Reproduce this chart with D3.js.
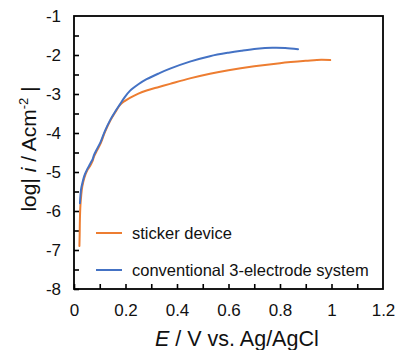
<!DOCTYPE html>
<html>
<head>
<meta charset="utf-8">
<script src="https://cdn.jsdelivr.net/npm/d3@7"></script>
<style>
  body { margin: 0; background: #fff; }
  svg { font-family: "Liberation Sans", Arial, sans-serif; }
</style>
</head>
<body>
<div id="chart"></div>
<script>
// sticker device
const stickerE = [0.021, 0.022, 0.023, 0.025, 0.028, 0.032, 0.04, 0.052, 0.062, 0.066, 0.072, 0.078, 0.09, 0.104, 0.12, 0.142, 0.16, 0.179, 0.195, 0.217, 0.25, 0.282, 0.33, 0.373, 0.45, 0.528, 0.6, 0.7, 0.8, 0.9, 0.96, 0.995];
const stickerLogI = [-6.9, -6.6, -6.2, -5.85, -5.6, -5.38, -5.15, -4.95, -4.85, -4.8, -4.72, -4.6, -4.44, -4.26, -3.98, -3.67, -3.47, -3.28, -3.19, -3.1, -2.99, -2.91, -2.82, -2.74, -2.6, -2.48, -2.39, -2.29, -2.21, -2.15, -2.12, -2.13];

// conventional 3-electrode system
const convE = [0.023, 0.025, 0.028, 0.032, 0.04, 0.052, 0.062, 0.066, 0.072, 0.078, 0.09, 0.104, 0.12, 0.142, 0.16, 0.179, 0.195, 0.217, 0.25, 0.282, 0.33, 0.373, 0.45, 0.528, 0.6, 0.65, 0.71, 0.77, 0.82, 0.87];
const convLogI = [-5.8, -5.6, -5.42, -5.3, -5.1, -4.92, -4.8, -4.75, -4.68, -4.56, -4.4, -4.22, -3.95, -3.65, -3.45, -3.26, -3.1, -2.92, -2.75, -2.62, -2.47, -2.35, -2.17, -2.03, -1.94, -1.89, -1.84, -1.815, -1.82, -1.85];

const xTickLabels = [0, 0.2, 0.4, 0.6, 0.8, 1, 1.2];
const yTickLabels = [-8, -7, -6, -5, -4, -3, -2, -1];
const legendNames = ['sticker device', 'conventional 3-electrode system'];

const W = 396, H = 350;
const m = { left: 74, top: 16, right: 13, bottom: 61 };
const w = W - m.left - m.right;
const h = H - m.top - m.bottom;

const x = d3.scaleLinear().domain([0, 1.2]).range([0, w]);
const y = d3.scaleLinear().domain([-8, -1]).range([h, 0]);

const svg = d3.select('#chart').append('svg')
  .attr('width', W)
  .attr('height', H);

const g = svg.append('g').attr('transform', `translate(${m.left},${m.top})`);

// inward minor ticks
g.append('g')
  .attr('transform', `translate(0,${h})`)
  .call(d3.axisBottom(x).tickValues(d3.range(0, 12).map(i => i / 10)).tickSize(-5).tickFormat(''))
  .call(a => a.select('.domain').remove())
  .call(a => a.selectAll('line').attr('stroke', '#000').attr('stroke-width', 1.6));

g.append('g')
  .call(d3.axisLeft(y).tickValues(d3.range(0, 14).map(i => -8 + i / 2)).tickSize(-5).tickFormat(''))
  .call(a => a.select('.domain').remove())
  .call(a => a.selectAll('line').attr('stroke', '#000').attr('stroke-width', 1.6));

// labels
g.append('g')
  .attr('transform', `translate(0,${h})`)
  .call(d3.axisBottom(x).tickValues(xTickLabels).tickSize(0).tickPadding(15).tickFormat(d => String(d)))
  .call(a => a.select('.domain').remove())
  .call(a => a.selectAll('text').attr('font-size', 17).attr('fill', '#111').attr('font-family', '"Liberation Sans", Arial, sans-serif'));

g.append('g')
  .call(d3.axisLeft(y).tickValues(yTickLabels).tickSize(0).tickPadding(13).tickFormat(d => String(d)))
  .call(a => a.select('.domain').remove())
  .call(a => a.selectAll('text').attr('font-size', 17).attr('fill', '#111').attr('font-family', '"Liberation Sans", Arial, sans-serif'));

// frame
g.append('rect')
  .attr('width', w)
  .attr('height', h)
  .attr('fill', 'none')
  .attr('stroke', '#000')
  .attr('stroke-width', 1.8);

const line = d3.line()
  .x(d => x(d[0]))
  .y(d => y(d[1]))
  .curve(d3.curveCatmullRom.alpha(0.5));

const series = [
  { name: legendNames[0], color: '#ED7D31', pts: stickerE.map((e, i) => [e, stickerLogI[i]]) },
  { name: legendNames[1], color: '#4472C4', pts: convE.map((e, i) => [e, convLogI[i]]) }
];

g.selectAll('path.curve')
  .data(series)
  .enter().append('path')
  .attr('class', 'curve')
  .attr('d', d => line(d.pts))
  .attr('fill', 'none')
  .attr('stroke', d => d.color)
  .attr('stroke-width', 2)
  .attr('stroke-linecap', 'round');

// legend
const leg = svg.append('g').attr('transform', 'translate(96,233)');
series.forEach((s, i) => {
  const row = leg.append('g').attr('transform', `translate(0,${i * 37})`);
  row.append('line')
    .attr('x1', 0).attr('x2', 26)
    .attr('stroke', s.color)
    .attr('stroke-width', 2);
  row.append('text')
    .attr('x', 36)
    .attr('y', 6)
    .attr('font-size', 16.5)
    .attr('fill', '#111')
    .text(s.name);
});

// x title
const xt = svg.append('text')
  .attr('x', 155)
  .attr('y', 346)
  .attr('font-size', 21.5)
  .attr('fill', '#111');
xt.append('tspan').attr('font-style', 'italic').text('E');
xt.append('tspan').text(' / V vs. Ag/AgCl');

// y title
const yt = svg.append('text')
  .attr('transform', 'translate(36,149) rotate(-90)')
  .attr('text-anchor', 'middle')
  .attr('font-size', 21)
  .attr('fill', '#111');
yt.append('tspan').text('log| ');
yt.append('tspan').attr('font-style', 'italic').text('i');
yt.append('tspan').text(' / Acm');
yt.append('tspan').attr('font-size', 13).attr('dy', -8).text('-2');
yt.append('tspan').attr('dy', 8).text(' |');
</script>
</body>
</html>
